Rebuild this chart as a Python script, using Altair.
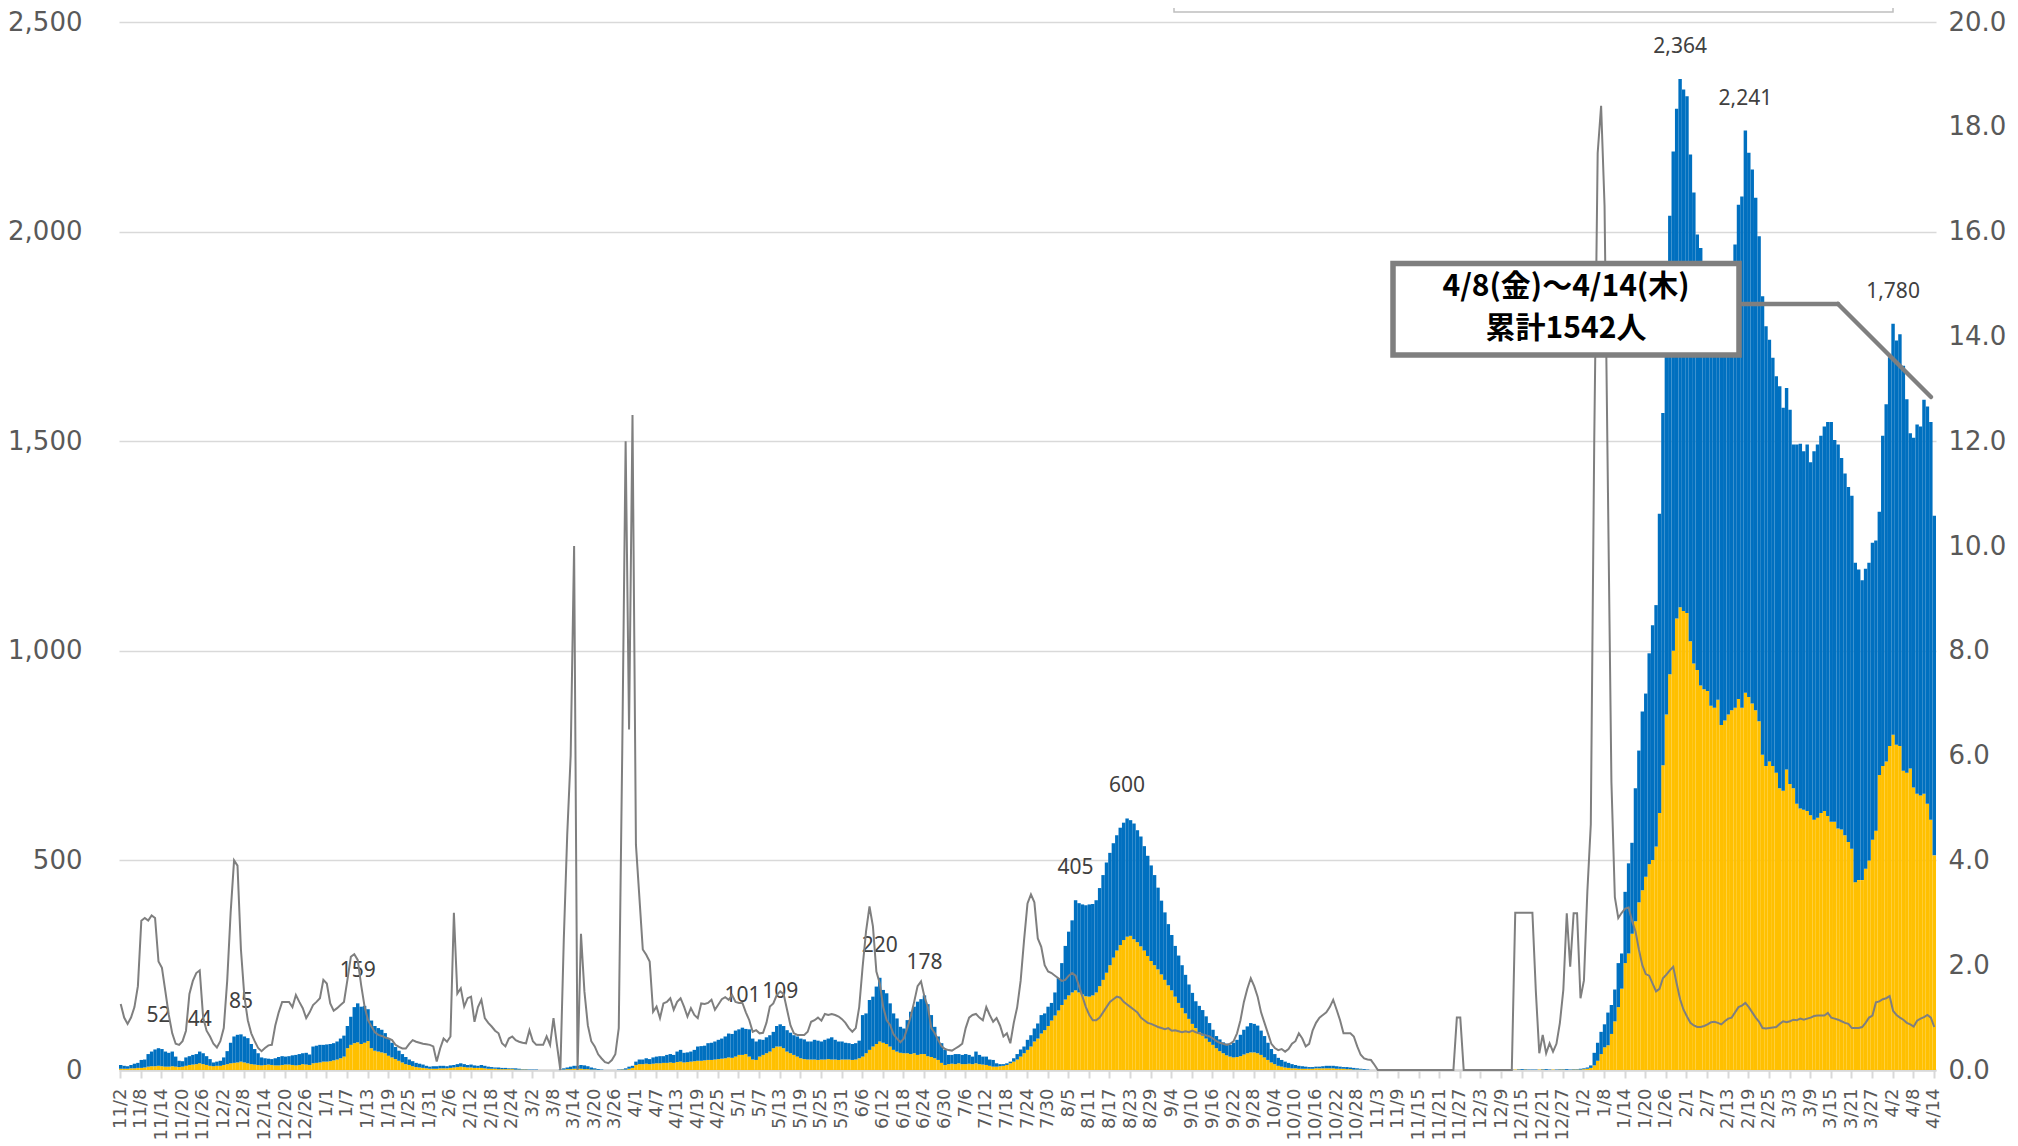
import altair as alt
import pandas as pd

# ---------------- data ----------------
# daily dates 2020-11-02 .. 2022-04-14
dates = pd.date_range("2020-11-02", "2022-04-14", freq="D").strftime("%Y-%m-%d").tolist()

# total (top of the blue bar)
total_2020_11 = [12,10,9,12,15,17, 24,25,38,44,49,52, 50,44,41,44,32,22, 21,30,33,36,38,44, 40,33,26,18,20]
total_2020_12 = [22,30,45,65,80,84,85,80,76,62, 50,40,30,28,27,26,28,31,33,32, 33,35,36,38,40,41,37,56,58,60, 60]
total_2021_01 = [61,62,64,68,75,82,105,127,150,159, 151,153,145,118,105,100,96,88,74,65, 55,46,38,31,25,21,17,15,13,10, 8]
total_2021_02 = [9,9,10,10,9,11,12,14,16,14,12,13,11,10,12,10,8,7,6,6,5,5,4,4,4,3,2,2]
total_2021_03 = [1,1,1,0,0,0,0,0,0, 1,4,6,8,10,10,12,11,9,6,4,2,1, 0,0,0,0,1,2,4,8,10]
total_2021_04 = [20,25,25,28,26,30, 32,33,33,36,38,36, 44,48,41,42,44,48, 56,57,58,64,65,68, 72,75,80,87,86,94]
total_2021_05 = [97,101,98,97,75,68, 73,72,78,83,91,105, 109,105,95,89,83,80, 75,73,68,68,72,70, 68,72,75,78,72,68, 68]
total_2021_06 = [65,64,62,64,70, 131,135,167,175,199,220, 191,183,159,135,123,103, 99,119,139,151,163,169, 178,157,131,103,80,64, 48]
total_2021_07 = [36,36,38,38,36, 38,36,32,44,36,32, 32,25,24,16,14,14, 16,20,28,38,49,56, 72,83,99,111,131,135, 151,160]
total_2021_08 = [185,219,255,296,330,357,405, 398,395,393,395,396,405,434, 465,495,518,541,560,578,590,
                 600,596,588,572,557,534,511, 488,465,435]
total_2021_09 = [404,376,348,322,296,273, 250,227,204,184,164,153, 143,128,112,96,81,73, 66,63,60,65,72,84, 96,104,112,110,106,94]
total_2021_10 = [81,65,50,38,29,24, 20,17,14,12,10,9, 8,7,7,8,8,9, 10,10,10,9,8,7, 7,6,5,4,3,2, 1]
total_2021_11 = [0,0,0,0,0,0,0,0,0,0, 0,0,0,0,0,0,0,0,0,0, 0,0,0,0,0,0,0,0,0,0]
total_2021_12 = [0,0,0,0,0,0,0,0,0,0,0, 1,1,2,2,2,1,1,1,1,2,2,1,1,1,2,2,2,1,2,2]
total_2022_01 = [3,4,6,11,41,65,91,109,137,155, 192,255,278,425,493,542,672,762,855,898,
                 994,1061,1109,1327,1567,1900,2038,2191,2293,2364, 2339]
total_2022_02 = [2323,2184,2093,1993,1961,1900,1760, 1780,1850,1880,1870,1820,1780,1900,
                 1969,2064,2084,2241,2188,2148,2081, 1989,1846,1774,1742,1699,1655,1631]
total_2022_03 = [1580,1627,1575,1492,1492,1494,1476, 1492,1450,1476,1492,1513,1535,1546,
                 1546,1503,1492,1460,1423,1391,1370, 1210,1194,1168,1196,1210,1258,1263,
                 1332,1513,1588]
total_2022_04 = [1700,1780,1740,1755,1680,1600,1519, 1508,1540,1535,1599,1583,1546,1322]

# yellow (lower) series
yellow_2020_11 = [3,3,3,4,4,5, 5,6,8,9,9,10, 9,8,8,9,8,7, 8,10,12,13,14,16, 14,12,10,9,10]
yellow_2020_12 = [10,12,14,16,17,18,20,18,16,14, 13,12,11,12,13,12,11,11,12,13, 13,12,11,12,14,13,12,16,17,18, 20]
yellow_2021_01 = [20,21,23,25,28, 32,52,60,64,66, 62,65,69,52,46, 44,42,40,34,30, 26,22,18,14,12, 9,7,6,5,4, 3]
yellow_2021_02 = [3,3,4,4,4,5,6,7,8,7,6,6,5,5,5,4,3,3,3,2,2,2,2,2,1,1,1,1]
yellow_2021_03 = [0,0,0,0,0,0,0,0,0, 0,1,2,2,3,3,3,2,2,1,1,0,0, 0,0,0,0,0,1,1,3,5]
yellow_2021_04 = [12,14,14,15,14,15, 16,16,17,17,18,17, 19,20,18,19,20,21, 22,22,23,24,24,25, 26,27,28,30,29,32]
yellow_2021_05 = [36,36,38,32,25,24, 32,36,40,44,52,56, 56,52,44,40,36,32, 28,26,25,25,25,24, 25,25,26,25,25,24, 25]
yellow_2021_06 = [25,25,24,25,28, 32,40,48,56,62,68, 65,62,56,48,44,41, 40,40,38,40,36,38, 38,33,31,28,24,17, 12]
yellow_2021_07 = [14,15,14,16,14, 14,15,14,16,14,13, 12,10,8,8,9,10, 12,16,20,25,32,40, 48,56,68,75,87,95, 105,118]
yellow_2021_08 = [130,142,155,168,178,185,190, 185,180,176,175,178,185,200, 215,232,250,268,285,298,310,
                  318,320,312,305,295,285,272, 260,250,240]
yellow_2021_09 = [228,215,202,190,175,160, 148,135,122,110,100,90, 82,75,67,60,52,45, 40,35,32,30,31,33, 37,40,42,42,40,36]
yellow_2021_10 = [30,24,18,14,10,8, 6,5,4,4,3,3, 3,3,3,4,4,4, 4,4,4,3,3,3, 2,2,1,1,1,0, 0]
yellow_2021_11 = [0,0,0,0,0,0,0,0,0,0, 0,0,0,0,0,0,0,0,0,0, 0,0,0,0,0,0,0,0,0,0]
yellow_2021_12 = [0,0,0,0,0,0,0,0,0,0,0, 0,1,1,0,1,0,0,0,1,1,0,0,1,0,1,1,0,0,1,1]
yellow_2022_01 = [1,2,3,5,11,22,38,54,59,86, 116,150,194,255,278,325,355,400,429,461,
                  491,501,533,613,727,848,944,1000,1077,1104, 1095]
yellow_2022_02 = [1090,1023,970,954,917,908,904, 869,864,883,823,834,848,858,
                  864,885,864,900,890,874,858, 832,752,725,736,725,709,672]
yellow_2022_03 = [666,717,682,672,635,624,621, 618,608,597,602,613,618,606,
                  592,592,576,574,560,544,528, 448,453,453,480,500,549,571, 704,725,736]
yellow_2022_04 = [773,800,776,773,714,709,719, 674,659,655,659,635,597,512]

# grey line (right axis)
ratio_2020_11 = [1.26,1.0,0.88,1.0,1.2,1.6, 2.85,2.9,2.85,2.95,2.9,2.07, 1.95,1.5,1.05,0.70,0.50,0.48,
                 0.55,0.75,1.45,1.70,1.85,1.90, 1.0,0.75,0.64,0.50,0.43]
ratio_2020_12 = [0.55,0.8,1.7,3.0,4.0,3.9, 2.3,1.4,0.95,0.7,0.55,0.42, 0.36,0.42,0.47,0.48,0.85,1.1,
                 1.30,1.30,1.30,1.2,1.43,1.3, 1.18,0.99,1.1,1.24,1.3,1.37, 1.72]
ratio_2021_01 = [1.65,1.27,1.13,1.18,1.24,1.30, 1.72,2.16,2.21,2.10,1.62,1.21, 0.95,0.83,0.72,0.67,0.65,0.62,
                 0.60,0.57,0.48,0.44,0.41,0.41, 0.50,0.57,0.54,0.52,0.50,0.49, 0.48]
ratio_2021_02 = [0.45,0.16,0.41,0.60,0.54,0.64,3.0, 1.46,1.56,1.21,1.37,1.40,0.92,1.2,
                 1.34,0.99,0.9,0.83,0.75,0.70,0.51, 0.45,0.6,0.64,0.57,0.54,0.52,0.51]
ratio_2021_03 = [0.76,0.55,0.48,0.48,0.48,0.64,0.48,0.99,0.48,0.0, 2.5,4.5,6.0,10.0,0.0,2.6,1.5,0.85,0.55,0.45,
                 0.3,0.22,0.15,0.13,0.19,0.3,0.8,6.0,12.0,6.5, 12.5]
ratio_2021_04 = [4.3,3.3,2.3,2.2,2.07,1.11, 1.21,0.99,1.27,1.30,1.37,1.15, 1.30,1.37,1.21,1.02,1.18,1.05,
                 0.99,1.27,1.26,1.28,1.34,1.15, 1.25,1.35,1.39,1.34,1.43,1.30]
ratio_2021_05 = [1.28,1.28,1.10,0.95,0.73,0.76, 0.70,0.71,0.9,1.21,1.27,1.43, 1.50,1.45,1.15,0.85,0.70,0.67,
                 0.67,0.67,0.73,0.92,0.95,1.00, 0.94,1.07,1.05,1.07,1.05,1.02, 0.97]
ratio_2021_06 = [0.90,0.80,0.73,0.80,1.2, 1.97,2.65,3.12,2.74,1.88,1.65, 1.20,0.95,0.86,0.68,0.60,0.53,
                 0.60,0.80,1.02,1.30,1.60,1.69, 1.40,1.20,0.80,0.70,0.57,0.45, 0.40]
ratio_2021_07 = [0.38,0.37,0.41,0.45,0.50, 0.80,1.00,1.05,1.07,1.00,0.95, 1.20,1.05,0.92,0.99,0.85,0.64,
                 0.70,0.51,0.90,1.20,1.70,2.48, 3.18,3.35,3.2,2.51,2.35,2.0, 1.88,1.85]
ratio_2021_08 = [1.8,1.75,1.7,1.72,1.8,1.85,1.8, 1.6,1.4,1.2,1.05,0.95,0.95,1.0, 1.1,1.2,1.3,1.35,1.4,1.38,1.3,
                 1.25,1.2,1.15,1.1,1.0,0.95,0.9, 0.88,0.85,0.82]
ratio_2021_09 = [0.8,0.78,0.8,0.75,0.76,0.74, 0.72,0.74,0.72,0.75,0.72,0.7, 0.68,0.66,0.64,0.6,0.55,0.52,
                 0.5,0.48,0.5,0.55,0.7,0.95, 1.3,1.55,1.75,1.6,1.4,1.1]
ratio_2021_10 = [0.9,0.7,0.5,0.42,0.38,0.4, 0.35,0.4,0.5,0.55,0.7,0.6, 0.45,0.5,0.75,0.9,1.0,1.05,
                 1.1,1.2,1.34,1.15,0.95,0.7, 0.7,0.7,0.64,0.45,0.29,0.22, 0.2]
ratio_2021_11 = [0.19,0.1, 0,0,0,0,0,0,0,0,0,0, 0,0,0,0,0,0,0,0,0,0, 0,0,0, 1.0,1.0, 0,0,0]
ratio_2021_12 = [0,0,0,0,0,0,0,0,0,0,0,0, 3.0,3.0,3.0,3.0,3.0,3.0,1.5,
                 0.32,0.67,0.32,0.51,0.35,0.5,0.9, 1.53,2.99,1.97,2.99,2.99]
ratio_2022_01 = [1.37,1.71,3.41,4.69,12.0,17.5,18.4,16.5,11.0,5.5, 3.3,2.9,3.0,3.08,3.1,2.85,2.65,2.3,2.0,1.83,
                 1.80,1.65,1.5,1.55,1.75,1.82,1.9,1.97,1.65,1.35, 1.15]
ratio_2022_02 = [1.02,0.9,0.85,0.82,0.82,0.84,0.87, 0.91,0.92,0.9,0.87,0.93,0.98,1.0,
                 1.1,1.2,1.23,1.28,1.2,1.1,1.0, 0.92,0.8,0.79,0.8,0.81,0.82,0.88]
ratio_2022_03 = [0.93,0.91,0.93,0.96,0.95,0.98,0.96, 0.98,1.0,1.03,1.04,1.04,1.04,1.09,
                 1.0,0.98,0.96,0.93,0.9,0.88,0.8, 0.8,0.8,0.82,0.9,1.0,1.04,1.29, 1.31,1.35,1.37]
ratio_2022_04 = [1.41,1.13,1.05,1.0,0.96,0.9,0.87, 0.83,0.94,0.98,1.01,1.05,1.0,0.82]

# data labels
label_dates = ["2020-11-13", "2020-11-25", "2020-12-07", "2021-01-10", "2021-05-02", "2021-05-13",
               "2021-06-11", "2021-06-24", "2021-08-07", "2021-08-22", "2022-01-30", "2022-02-18",
               "2022-04-02"]

# callout text
callout_line1 = "4/8(金)～4/14(木)"
callout_line2 = "累計1542人"

# ---------------- assemble ----------------
months = ["2020_11", "2020_12", "2021_01", "2021_02", "2021_03", "2021_04", "2021_05", "2021_06",
          "2021_07", "2021_08", "2021_09", "2021_10", "2021_11", "2021_12", "2022_01", "2022_02",
          "2022_03", "2022_04"]
g = globals()
total = sum((g["total_" + m] for m in months), [])
yellow = sum((g["yellow_" + m] for m in months), [])
ratio = sum((g["ratio_" + m] for m in months), [])
assert len(dates) == len(total) == len(yellow) == len(ratio), (len(dates), len(total), len(yellow), len(ratio))

df = pd.DataFrame({"date": dates, "total": total, "yellow": yellow, "ratio": ratio})
lookup = dict(zip(dates, total))
lab_df = pd.DataFrame({"date": label_dates, "total": [lookup[d] for d in label_dates]})
lab_df["text"] = [f"{v:,}" for v in lab_df["total"]]

tick_dates = dates[::6]

GRID = "#d9d9d9"
LABEL = "#595959"
AXFONT = "DejaVu Sans"

x_axis = alt.Axis(
    values=tick_dates,
    labelExpr="toNumber(substring(datum.value,5,7)) + '/' + toNumber(substring(datum.value,8,10))",
    labelAngle=270, labelFontSize=18, labelColor=LABEL, labelFont=AXFONT,
    labelPadding=10, labelOverlap=False, tickSize=8, tickColor=GRID, tickWidth=2,
    domainColor=GRID, domainWidth=2.5, grid=False, title=None)
x_scale = alt.Scale(paddingInner=0, paddingOuter=0)

left_scale = alt.Scale(domain=[0, 2500], nice=False)
left_axis = alt.Axis(values=[0, 500, 1000, 1500, 2000, 2500], format=",.0f", labelFontSize=26,
                     labelColor=LABEL, labelFont=AXFONT, ticks=False, domain=False, grid=True,
                     gridColor=GRID, gridWidth=1.5, labelPadding=37, title=None, orient="left")
right_scale = alt.Scale(domain=[0, 20], nice=False)
right_axis = alt.Axis(values=[0, 2, 4, 6, 8, 10, 12, 14, 16, 18, 20], format=".1f", labelFontSize=26,
                      labelColor=LABEL, labelFont=AXFONT, ticks=False, domain=False, grid=False,
                      labelPadding=12, title=None, orient="right")

base = alt.Chart(df)
yellow_bars = base.mark_bar(color="#FFC000").encode(
    x=alt.X("date:O", scale=x_scale, axis=x_axis),
    y=alt.Y("yellow:Q", scale=left_scale, axis=left_axis, stack=None))
blue_bars = base.mark_bar(color="#0070C0").encode(
    x=alt.X("date:O", scale=x_scale),
    y=alt.Y("total:Q", scale=left_scale, stack=None),
    y2=alt.Y2("yellow:Q"))
value_labels = alt.Chart(lab_df).mark_text(
    dy=-32, fontSize=21, font="Noto Sans", color="#404040", baseline="middle", align="center").encode(
    x=alt.X("date:O", scale=x_scale),
    y=alt.Y("total:Q", scale=left_scale),
    text="text:N")
bars = alt.layer(yellow_bars, blue_bars, value_labels)

ratio_line = base.mark_line(color="#7f7f7f", strokeWidth=2).encode(
    x=alt.X("date:O", scale=x_scale),
    y=alt.Y("ratio:Q", scale=right_scale, axis=right_axis))

ann = alt.Chart(pd.DataFrame({"a": [0]}))
legend_box = ann.mark_rect(fill="white", stroke="#bfbfbf", strokeWidth=1.5).encode(
    x=alt.value(1055), x2=alt.value(1774), y=alt.value(-40), y2=alt.value(-10))
callout_box = ann.mark_rect(fill="white", stroke="#7f7f7f", strokeWidth=5.5).encode(
    x=alt.value(1274), x2=alt.value(1620), y=alt.value(241.5), y2=alt.value(333))
leader_h = ann.mark_rule(color="#7f7f7f", strokeWidth=4.5, strokeCap="round").encode(
    x=alt.value(1623), x2=alt.value(1719), y=alt.value(282), y2=alt.value(282))
leader_d = ann.mark_rule(color="#7f7f7f", strokeWidth=4.5, strokeCap="round").encode(
    x=alt.value(1719), x2=alt.value(1812), y=alt.value(282), y2=alt.value(375))
callout_t1 = ann.mark_text(font="Noto Sans CJK JP", fontSize=30, fontWeight="bold", color="black",
                           align="center", baseline="middle").encode(
    x=alt.value(1447), y=alt.value(265), text=alt.value(callout_line1))
callout_t2 = ann.mark_text(font="Noto Sans CJK JP", fontSize=30, fontWeight="bold", color="black",
                           align="center", baseline="middle").encode(
    x=alt.value(1447), y=alt.value(307), text=alt.value(callout_line2))

chart = alt.layer(
    bars, ratio_line, legend_box, callout_box, leader_h, leader_d, callout_t1, callout_t2
).resolve_scale(y="independent").properties(
    width=1817, height=1048,
    autosize=alt.AutoSizeParams(type="none"),
    padding={"left": 111, "top": 14, "right": 74, "bottom": 76},
).configure_view(stroke=None)

chart.save("out.html", embed_options={"renderer": "svg", "actions": False})
